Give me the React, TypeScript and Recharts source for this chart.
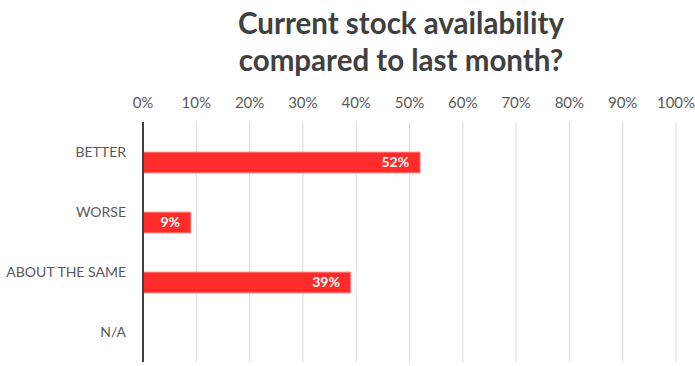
import React from 'react';
import { BarChart, Bar, XAxis, YAxis, CartesianGrid, LabelList } from 'recharts';

const categories = ['BETTER', 'WORSE', 'ABOUT THE SAME', 'N/A'];
const values = [0.52, 0.09, 0.39, null];
const ticks = [0, 0.1, 0.2, 0.3, 0.4, 0.5, 0.6, 0.7, 0.8, 0.9, 1];

const data = categories.map((c, i) => ({ name: c, blank: null, value: values[i] }));

const FONT = 'Lato, "Open Sans", sans-serif';
const pct = (v: any) => (v == null ? '' : `${Math.round(v * 100)}%`);

export default function App() {
  return (
    <div style={{ position: 'absolute', left: 0, top: 0, width: 695, height: 366, background: '#fff', fontFamily: FONT }}>
      <div style={{ position: 'absolute', left: 105, width: 592, top: 4, textAlign: 'center', fontSize: 29.5, fontWeight: 700, color: '#404040', lineHeight: '37px' }}>
        Current stock availability<br />compared to last month?
      </div>
      <BarChart
        width={695}
        height={366}
        data={data}
        layout="vertical"
        margin={{ top: 80, right: 19, bottom: 4, left: 0 }}
        barCategoryGap="15%"
        barGap={0}
      >
        <CartesianGrid horizontal={false} stroke="#D9D9D9" strokeWidth={1} />
        <XAxis
          type="number"
          orientation="top"
          domain={[0, 1]}
          ticks={ticks}
          tickFormatter={pct}
          axisLine={false}
          tickLine={false}
          tickSize={0}
          tickMargin={14}
          height={42}
          tick={{ fill: '#595959', fontSize: 15, fontFamily: FONT }}
          interval={0}
        />
        <YAxis
          type="category"
          dataKey="name"
          width={143}
          axisLine={{ stroke: '#404040', strokeWidth: 2 }}
          tickLine={false}
          tickSize={0}
          tickMargin={17}
          tick={{ fill: '#595959', fontSize: 14, fontFamily: FONT }}
          interval={0}
        />
        <Bar dataKey="blank" fill="#FF2A2A" isAnimationActive={false} />
        <Bar dataKey="value" fill="#FF2A2A" stroke="#FFA0A0" strokeWidth={1} isAnimationActive={false}>
          <LabelList dataKey="value" position="insideRight" offset={11} formatter={pct} fill="#FFFFFF" fontSize={14} fontWeight={700} fontFamily={FONT} />
        </Bar>
      </BarChart>
    </div>
  );
}
